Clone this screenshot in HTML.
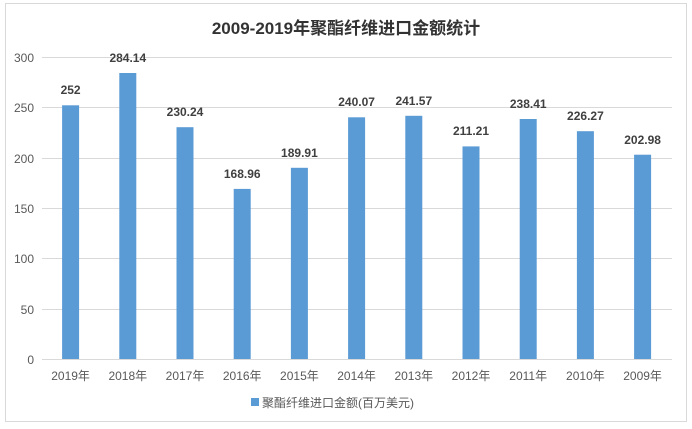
<!DOCTYPE html>
<html><head><meta charset="utf-8"><style>
body{margin:0;background:#fff;}
svg{display:block;font-family:"Liberation Sans","Noto Sans CJK SC",sans-serif;}
</style></head><body>
<svg width="692" height="429" viewBox="0 0 692 429" xmlns="http://www.w3.org/2000/svg">
<rect x="0" y="0" width="692" height="429" fill="#fff"/>
<rect x="5.5" y="3.5" width="681" height="418" fill="none" stroke="#d9d9d9"/>
<text x="346" y="34" text-anchor="middle" font-size="17" font-weight="bold" fill="#333">2009-2019年聚酯纤维进口金额统计</text>
<g stroke="#d9d9d9" stroke-width="1">
<line x1="42" x2="672" y1="57.5" y2="57.5"/>
<line x1="42" x2="672" y1="107.5" y2="107.5"/>
<line x1="42" x2="672" y1="158.5" y2="158.5"/>
<line x1="42" x2="672" y1="208.5" y2="208.5"/>
<line x1="42" x2="672" y1="258.5" y2="258.5"/>
<line x1="42" x2="672" y1="309.5" y2="309.5"/>
<line x1="42" x2="672" y1="359.5" y2="359.5"/>
</g>
<g font-size="12" fill="#595959" text-anchor="end">
<text x="34" y="62">300</text><text x="34" y="112">250</text><text x="34" y="163">200</text>
<text x="34" y="213">150</text><text x="34" y="263">100</text><text x="34" y="314">50</text><text x="34" y="364">0</text>
</g>
<g fill="#5b9bd5">
<rect x="62.1" y="105.3" width="17" height="253.7"/>
<rect x="119.3" y="73" width="17" height="286"/>
<rect x="176.5" y="127.2" width="17" height="231.8"/>
<rect x="233.7" y="188.9" width="17" height="170.1"/>
<rect x="290.9" y="167.8" width="17" height="191.2"/>
<rect x="348.1" y="117.3" width="17" height="241.7"/>
<rect x="405.3" y="115.8" width="17" height="243.2"/>
<rect x="462.5" y="146.4" width="17" height="212.6"/>
<rect x="519.7" y="119" width="17" height="240"/>
<rect x="576.9" y="131.2" width="17" height="227.8"/>
<rect x="634.1" y="154.7" width="17" height="204.3"/>
</g>
<g font-size="12" font-weight="bold" fill="#404040" text-anchor="middle">
<text x="70.6" y="94">252</text>
<text x="127.8" y="62">284.14</text>
<text x="185" y="116">230.24</text>
<text x="242.2" y="178">168.96</text>
<text x="299.4" y="157">189.91</text>
<text x="356.6" y="106">240.07</text>
<text x="413.8" y="105">241.57</text>
<text x="471" y="135">211.21</text>
<text x="528.2" y="108">238.41</text>
<text x="585.4" y="120">226.27</text>
<text x="642.6" y="144">202.98</text>
</g>
<g font-size="12" fill="#595959" text-anchor="middle">
<text x="70.6" y="380">2019年</text><text x="127.8" y="380">2018年</text><text x="185" y="380">2017年</text>
<text x="242.2" y="380">2016年</text><text x="299.4" y="380">2015年</text><text x="356.6" y="380">2014年</text>
<text x="413.8" y="380">2013年</text><text x="471" y="380">2012年</text><text x="528.2" y="380">2011年</text>
<text x="585.4" y="380">2010年</text><text x="642.6" y="380">2009年</text>
</g>
<rect x="251" y="398" width="8" height="8" fill="#5b9bd5"/>
<text x="262" y="407" font-size="12" fill="#595959">聚酯纤维进口金额(百万美元)</text>
</svg>
</body></html>
